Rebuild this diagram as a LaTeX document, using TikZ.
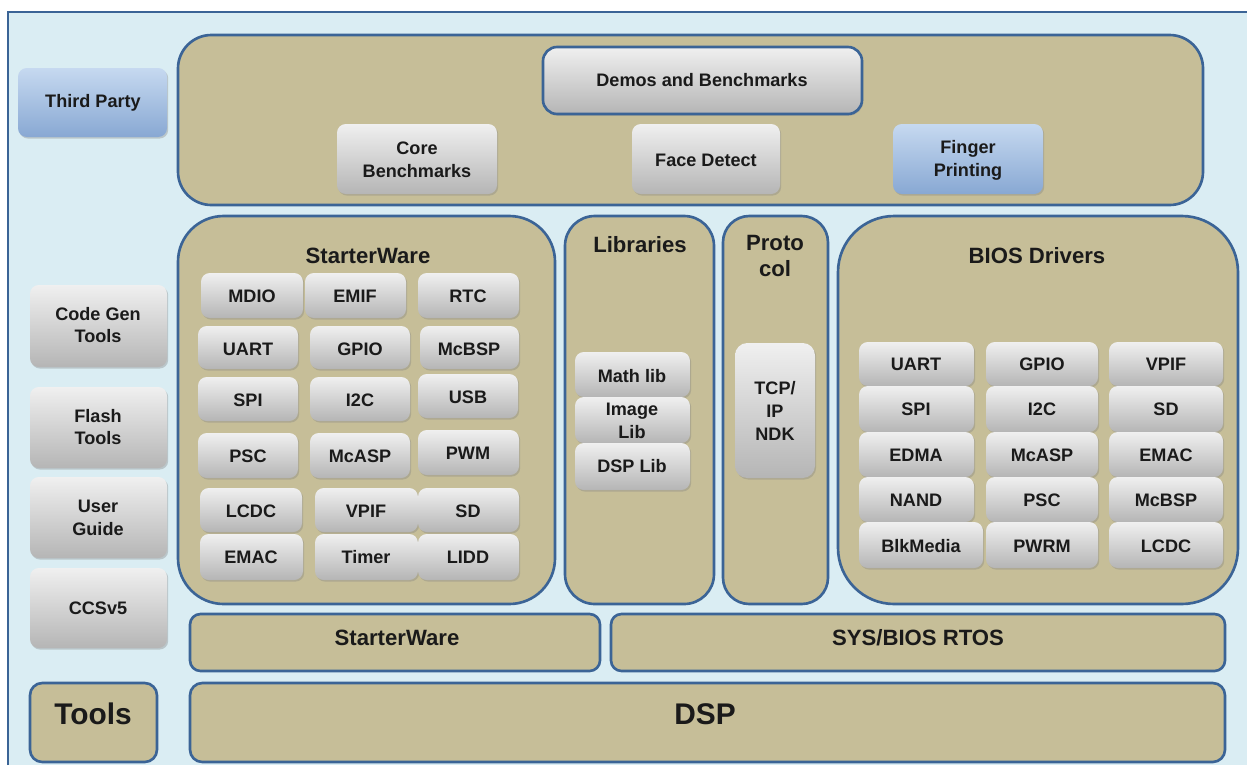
\documentclass[tikz,border=0pt]{standalone}
\usepackage{fontspec}
\setmainfont{Liberation Sans}
\usepackage{xcolor}
\usetikzlibrary{shadows}
\definecolor{bgblue}{HTML}{DAEDF3}
\definecolor{tan}{HTML}{C6BE98}
\definecolor{frameblue}{HTML}{3B6496}
\definecolor{txt}{HTML}{1A1A1A}
\definecolor{bluetop}{HTML}{C6D9F0}
\definecolor{bluemid}{HTML}{A2BDE2}
\definecolor{bluebot}{HTML}{88A8D3}

\begin{document}
\begin{tikzpicture}[x=0.02cm,y=-0.02cm,
		panel/.style={fill=tan,draw=frameblue,line width=1.5pt},
		btn/.style={rounded corners=5pt,top color=gray!12,middle color=gray!34,bottom color=gray!58,
			drop shadow={shadow xshift=0.7pt,shadow yshift=-0.9pt,opacity=0.35}},
		bluebtn/.style={rounded corners=5pt,top color=bluetop,middle color=bluemid,bottom color=bluebot,
			drop shadow={shadow xshift=0.7pt,shadow yshift=-0.9pt,opacity=0.35}},
		lbl/.style={text=txt,align=center,font=\fontsize{10.3}{13}\selectfont\bfseries},
		head/.style={text=txt,align=center,font=\fontsize{12.6}{15}\selectfont\bfseries},
		big/.style={text=txt,font=\fontsize{17}{20}\selectfont\bfseries}]
				\useasboundingbox (0,0) rectangle (1247,765);
				\fill [white](0,0)rectangle(1247,765);
				\fill [bgblue](8,12)rectangle(1247,765);
				\draw [frameblue,line width=1.5pt] (8,765)--(8,12)--(1247,12);
				% top panel
				\draw [panel,rounded corners=19pt](178,35)rectangle(1203,205);
				\path [btn,draw=frameblue,line width=1.5pt,rounded corners=8pt](543,47)rectangle(862,114);
				\node [lbl] (demos) at (702,80){Demos and Benchmarks};
				\path [btn](337,124)rectangle(497,194);
				\node [lbl] (core) at (417,160){Core\\Benchmarks};
				\path [btn](632,124)rectangle(780,194);
				\node [lbl] (face) at (706,160){Face Detect};
				\path [bluebtn](893,124)rectangle(1043,194);
				\node [lbl] (finger) at (968,160){Finger\\Printing};
				% left column
				\path [bluebtn](18,68)rectangle(167,137);
				\node [lbl] (third) at (93,103){Third Party};
				\path [btn](30,285)rectangle(167,367);
				\node [lbl] (codegen) at (98,325){Code Gen\\Tools};
				\path [btn](30,387)rectangle(167,468);
				\node [lbl] (flash) at (98,427){Flash\\Tools};
				\path [btn](30,477)rectangle(167,558);
				\node [lbl] (guide) at (98,518){User\\Guide};
				\path [btn](30,568)rectangle(167,648);
				\node [lbl] (ccs) at (98,608){CCSv5};
				\draw [panel,rounded corners=7pt](30,683)rectangle(157,762);
				\node [big] (tools) at (93,714){Tools};
				% StarterWare
				\draw [panel,rounded corners=26pt](178,216)rectangle(555,604);
				\node [head] (swhead) at (368,256){StarterWare};
				\path [btn](201,273)rectangle(303,318);
				\node [lbl] (sw1) at (252,296){MDIO};
				\path [btn](305,273)rectangle(406,318);
				\node [lbl] (sw2) at (355,296){EMIF};
				\path [btn](418,273)rectangle(519,318);
				\node [lbl] (sw3) at (468,296){RTC};
				\path [btn](198,326)rectangle(298,369);
				\node [lbl] (sw4) at (248,349){UART};
				\path [btn](310,326)rectangle(410,369);
				\node [lbl] (sw5) at (360,349){GPIO};
				\path [btn](420,326)rectangle(519,369);
				\node [lbl] (sw6) at (469,349){McBSP};
				\path [btn](198,377)rectangle(298,421);
				\node [lbl] (sw7) at (248,400){SPI};
				\path [btn](310,377)rectangle(410,421);
				\node [lbl] (sw8) at (360,400){I2C};
				\path [btn](418,374)rectangle(518,418);
				\node [lbl] (sw9) at (468,397){USB};
				\path [btn](198,433)rectangle(298,478);
				\node [lbl] (sw10) at (248,456){PSC};
				\path [btn](310,433)rectangle(410,478);
				\node [lbl] (sw11) at (360,456){McASP};
				\path [btn](418,430)rectangle(519,475);
				\node [lbl] (sw12) at (468,453){PWM};
				\path [btn](200,488)rectangle(302,532);
				\node [lbl] (sw13) at (251,511){LCDC};
				\path [btn](315,488)rectangle(418,532);
				\node [lbl] (sw14) at (366,511){VPIF};
				\path [btn](418,488)rectangle(519,532);
				\node [lbl] (sw15) at (468,511){SD};
				\path [btn](200,534)rectangle(303,580);
				\node [lbl] (sw16) at (251,557){EMAC};
				\path [btn](315,534)rectangle(418,580);
				\node [lbl] (sw17) at (366,557){Timer};
				\path [btn](418,534)rectangle(519,580);
				\node [lbl] (sw18) at (468,557){LIDD};
				% Libraries
				\draw [panel,rounded corners=17pt](565,216)rectangle(714,604);
				\node [head] (libhead) at (640,245){Libraries};
				\path [btn](575,352)rectangle(690,397);
				\node [lbl] (mathlib) at (632,376){Math lib};
				\path [btn](575,397)rectangle(690,443);
				\node [lbl] (imglib) at (632,421){Image\\Lib};
				\path [btn](575,443)rectangle(690,490);
				\node [lbl] (dsplib) at (632,466){DSP Lib};
				% Protocol
				\draw [panel,rounded corners=15pt](723,216)rectangle(828,604);
				\node [head] (protohead) at (775,256){Proto\\col};
				\path [btn,rounded corners=7pt](735,343)rectangle(815,478);
				\node [lbl] (tcp) at (775,411){TCP/\\IP\\NDK};
				% BIOS Drivers
				\draw [panel,rounded corners=32pt](838,216)rectangle(1238,604);
				\node [head] (bioshead) at (1037,256){BIOS Drivers};
				\path [btn](859,342)rectangle(974,386);
				\node [lbl] (bd1) at (916,364){UART};
				\path [btn](986,342)rectangle(1098,386);
				\node [lbl] (bd2) at (1042,364){GPIO};
				\path [btn](1109,342)rectangle(1223,386);
				\node [lbl] (bd3) at (1166,364){VPIF};
				\path [btn](859,386)rectangle(974,432);
				\node [lbl] (bd4) at (916,409){SPI};
				\path [btn](986,386)rectangle(1098,432);
				\node [lbl] (bd5) at (1042,409){I2C};
				\path [btn](1109,386)rectangle(1223,432);
				\node [lbl] (bd6) at (1166,409){SD};
				\path [btn](859,432)rectangle(974,477);
				\node [lbl] (bd7) at (916,455){EDMA};
				\path [btn](986,432)rectangle(1098,477);
				\node [lbl] (bd8) at (1042,455){McASP};
				\path [btn](1109,432)rectangle(1223,477);
				\node [lbl] (bd9) at (1166,455){EMAC};
				\path [btn](859,477)rectangle(974,522);
				\node [lbl] (bd10) at (916,500){NAND};
				\path [btn](986,477)rectangle(1098,522);
				\node [lbl] (bd11) at (1042,500){PSC};
				\path [btn](1109,477)rectangle(1223,522);
				\node [lbl] (bd12) at (1166,500){McBSP};
				\path [btn](859,522)rectangle(983,568);
				\node [lbl] (bd13) at (921,546){BlkMedia};
				\path [btn](986,522)rectangle(1098,568);
				\node [lbl] (bd14) at (1042,546){PWRM};
				\path [btn](1109,522)rectangle(1223,568);
				\node [lbl] (bd15) at (1166,546){LCDC};
				% bottom layers
				\draw [panel,rounded corners=6pt](190,614)rectangle(600,671);
				\node [head] (swbar) at (397,638){StarterWare};
				\draw [panel,rounded corners=6pt](611,614)rectangle(1225,671);
				\node [head] (rtos) at (918,638){SYS/BIOS RTOS};
				\draw [panel,rounded corners=7pt](190,683)rectangle(1225,762);
				\node [big] (dsp) at (705,714){DSP};
			\end{tikzpicture}
\end{document}
